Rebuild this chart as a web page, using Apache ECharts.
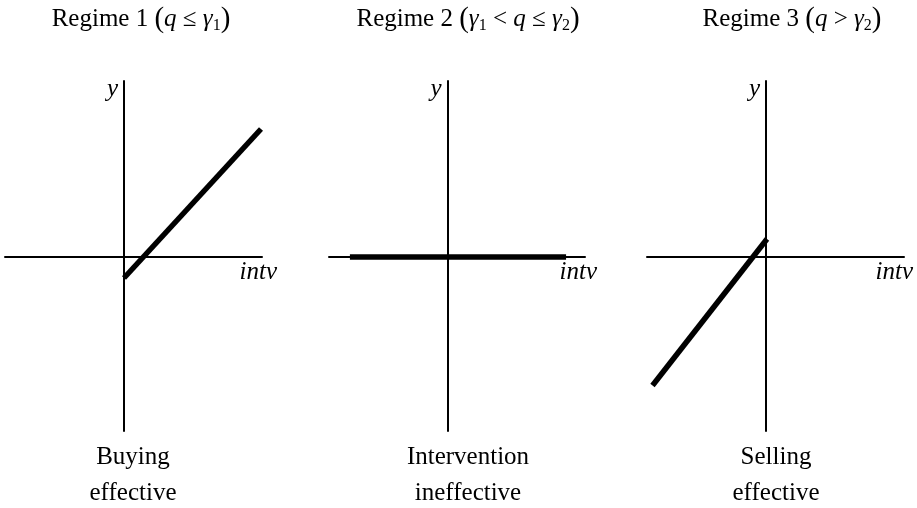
<!DOCTYPE html>
<html>
<head>
<meta charset="utf-8">
<title>Regimes</title>
<script src="https://cdn.jsdelivr.net/npm/echarts@6/dist/echarts.min.js"></script>
<style>
  html, body { margin: 0; padding: 0; background: #fff; }
  #myChart { width: 917px; height: 508px; }
</style>
</head>
<body>
<div id="myChart"></div>
<script>
// panel titles (rich text) and labels under each panel
const regimeTitles = [
  '{n|Regime 1 }{p|(}{i|q}{n| ≤ }{i|γ}{s|1}{p|)}',
  '{n|Regime 2 }{p|(}{i|γ}{s|1}{n| < }{i|q}{n| ≤ }{i|γ}{s|2}{p|)}',
  '{n|Regime 3 }{p|(}{i|q}{n| > }{i|γ}{s|2}{p|)}'
]
const footLabels = ['Buying\neffective', 'Intervention\nineffective', 'Selling\neffective']
const xName = 'intv'
const yName = 'y'

// axis extents (same for every panel)
const xRange = [-11.9, 13.8]
const yRange = [-17.4, 17.6]

// the response line in each regime, [intv, y]
const buyingLine = [[0, -2.1], [13.7, 12.8]]
const flatLine = [[-9.8, 0], [11.9, 0]]
const sellingLine = [[-11.35, -12.85], [0.1, 1.8]]
const regimeLines = [buyingLine, flatLine, sellingLine]

// layout
const gridLefts = [5, 329, 647]
const gridWidths = [257, 256, 257]
const titleX = [141, 468, 792]
const footX = [133, 468, 776]
const nameGaps = [15, 12, 9]

const font = 'Liberation Serif'
const myChart = echarts.init(document.getElementById('myChart'))

const grids = []
const xAxes = []
const yAxes = []
const series = []
const graphics = []

for (let i = 0; i < 3; i++) {
  grids.push({ left: gridLefts[i], top: 81, width: gridWidths[i], height: 350 })
  xAxes.push({
    type: 'value',
    gridIndex: i,
    min: xRange[0],
    max: xRange[1],
    name: xName,
    nameLocation: 'end',
    nameGap: nameGaps[i],
    nameTextStyle: {
      fontFamily: font, fontStyle: 'italic', fontSize: 25, color: '#000',
      align: 'right', verticalAlign: 'top', padding: [3, 0, 0, 0]
    },
    axisLine: { onZero: true, lineStyle: { color: '#000', width: 2 } },
    axisTick: { show: false },
    axisLabel: { show: false },
    splitLine: { show: false }
  })
  yAxes.push({
    type: 'value',
    gridIndex: i,
    min: yRange[0],
    max: yRange[1],
    name: yName,
    nameLocation: 'end',
    nameGap: -8,
    nameTextStyle: {
      fontFamily: font, fontStyle: 'italic', fontSize: 25, color: '#000',
      align: 'right', verticalAlign: 'middle', padding: [0, 6, 0, 0]
    },
    axisLine: { onZero: true, lineStyle: { color: '#000', width: 2 } },
    axisTick: { show: false },
    axisLabel: { show: false },
    splitLine: { show: false }
  })
  series.push({
    type: 'line',
    xAxisIndex: i,
    yAxisIndex: i,
    data: regimeLines[i],
    symbol: 'none',
    clip: false,
    lineStyle: { color: '#000', width: 5.5, cap: 'butt' },
    z: 3
  })
  graphics.push({
    type: 'text',
    x: titleX[i],
    y: 19,
    style: {
      text: regimeTitles[i],
      align: 'center',
      verticalAlign: 'middle',
      fill: '#000',
      font: '25px ' + font,
      rich: {
        n: { fontFamily: font, fontSize: 25, color: '#000' },
        i: { fontFamily: font, fontSize: 25, fontStyle: 'italic', color: '#000' },
        p: { fontFamily: font, fontSize: 29, color: '#000' },
        s: { fontFamily: font, fontSize: 16, color: '#000', verticalAlign: 'bottom' }
      }
    }
  })
  graphics.push({
    type: 'text',
    x: footX[i],
    y: 475,
    style: {
      text: footLabels[i],
      align: 'center',
      verticalAlign: 'middle',
      fill: '#000',
      font: '25px ' + font,
      lineHeight: 36
    }
  })
}

myChart.setOption({
  animation: false,
  grid: grids,
  xAxis: xAxes,
  yAxis: yAxes,
  series: series,
  graphic: graphics
})
</script>
</body>
</html>
